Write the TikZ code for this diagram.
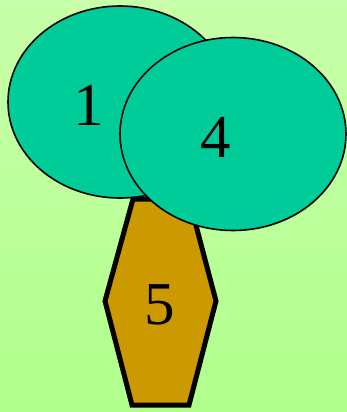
\documentclass[tikz,border=0pt]{standalone}
\usepackage{fontspec}
\setmainfont{Liberation Serif}
\usepackage{tikz}
\usetikzlibrary{shapes.geometric}
\definecolor{Crown}{HTML}{00CC99}
\definecolor{Trunk}{HTML}{CC9900}
\definecolor{SkyTop}{HTML}{C8FFAA}
\definecolor{SkyLow}{HTML}{B0FF8C}

\begin{document}
\begin{tikzpicture}[
  x=1pt,y=-1pt,
  crown/.style={ellipse,draw=black,fill=Crown,line width=1.6pt,inner sep=0pt},
  trunk/.style={draw=black,fill=Trunk,line width=5pt,line join=miter},
  tag/.style={inner sep=0pt,font=\fontsize{61}{61}\selectfont}
]
\useasboundingbox (0,0) rectangle (347,412);
\shade[top color=SkyTop,bottom color=SkyLow] (0,0) rectangle (347,412);
% trunk
\coordinate (tl) at (133,199);
\coordinate (tr) at (189,199);
\coordinate (mr) at (216,301);
\coordinate (br) at (189,405);
\coordinate (bl) at (132,405);
\coordinate (ml) at (105,301);
\draw[trunk] (tl) -- (tr) -- (mr) -- (br) -- (bl) -- (ml) -- cycle;
\node[tag] (five) at (160,305) {5};
% crown
\node[crown,minimum width=224,minimum height=192] (left) at (120,102) {};
\node[tag] (one) at (89,105) {1};
\node[crown,minimum width=226,minimum height=193] (right) at (233,134) {};
\node[tag] (four) at (216,137) {4};
\end{tikzpicture}
\end{document}
